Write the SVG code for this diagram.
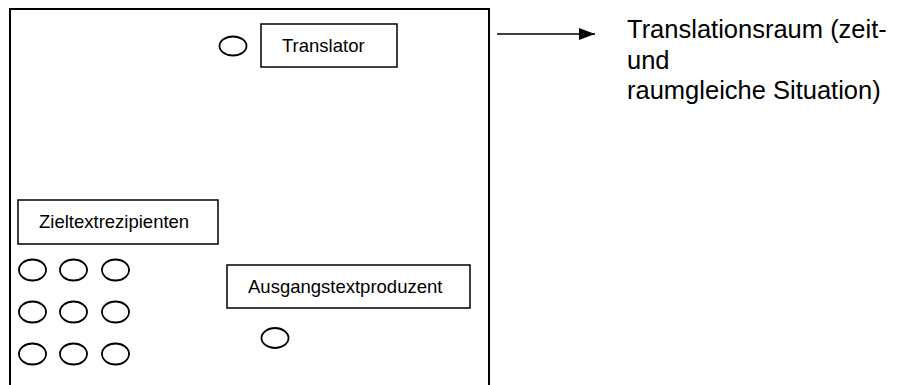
<svg xmlns="http://www.w3.org/2000/svg" width="902" height="385" viewBox="0 0 902 385">
  <style>
    .frame { fill: none; stroke: #000; stroke-width: 2; }
    .box { fill: #fff; stroke: #000; stroke-width: 1.5; }
    .person { fill: #fff; stroke: #000; stroke-width: 1.8; }
    .label { font-family: "Liberation Sans", Arial, sans-serif; font-size: 18.5px; fill: #000; }
    .note { font-family: "Liberation Sans", Arial, sans-serif; font-size: 25.5px; fill: #000; }
    .link { stroke: #000; stroke-width: 1.5; fill: none; }
  </style>
  <defs>
    <marker id="head" viewBox="0 0 16 12" refX="16" refY="6" markerWidth="16" markerHeight="12" markerUnits="userSpaceOnUse" orient="auto">
      <path d="M0,0 L16,6 L0,12 Z" fill="#000"/>
    </marker>
  </defs>
  <rect width="902" height="385" fill="#fff"/>

  <!-- translation space: open-bottom frame -->
  <g id="raum">
    <path class="frame" d="M10,385 V9 H489 V385"/>
  </g>

  <g id="translator">
    <rect class="box" x="261" y="24" width="136" height="43"/>
    <text class="label" x="282" y="52">Translator</text>
    <ellipse class="person" cx="233" cy="46" rx="13.5" ry="9.5"/>
  </g>

  <g id="zieltextrezipienten">
    <rect class="box" x="18" y="200" width="200" height="44"/>
    <text class="label" x="39" y="228">Zieltextrezipienten</text>
    <ellipse class="person" cx="32.5" cy="270" rx="13.5" ry="10.5"/>
    <ellipse class="person" cx="73.5" cy="270" rx="13.5" ry="10.5"/>
    <ellipse class="person" cx="115.5" cy="270" rx="13.5" ry="10.5"/>
    <ellipse class="person" cx="32.5" cy="312" rx="13.5" ry="10.5"/>
    <ellipse class="person" cx="73.5" cy="312" rx="13.5" ry="10.5"/>
    <ellipse class="person" cx="115.5" cy="312" rx="13.5" ry="10.5"/>
    <ellipse class="person" cx="32.5" cy="354" rx="13.5" ry="10.5"/>
    <ellipse class="person" cx="73.5" cy="354" rx="13.5" ry="10.5"/>
    <ellipse class="person" cx="115.5" cy="354" rx="13.5" ry="10.5"/>
  </g>

  <g id="ausgangstextproduzent">
    <rect class="box" x="227" y="265" width="243" height="43"/>
    <text class="label" x="248" y="293">Ausgangstextproduzent</text>
    <ellipse class="person" cx="275" cy="338" rx="13.5" ry="10"/>
  </g>

  <g id="connectors">
    <line class="link" x1="497" y1="34" x2="595" y2="34" marker-end="url(#head)"/>
  </g>

  <g id="legende">
    <text class="note" x="627" y="38">Translationsraum (zeit-</text>
    <text class="note" x="627" y="69">und</text>
    <text class="note" x="627" y="99">raumgleiche Situation)</text>
  </g>
</svg>
